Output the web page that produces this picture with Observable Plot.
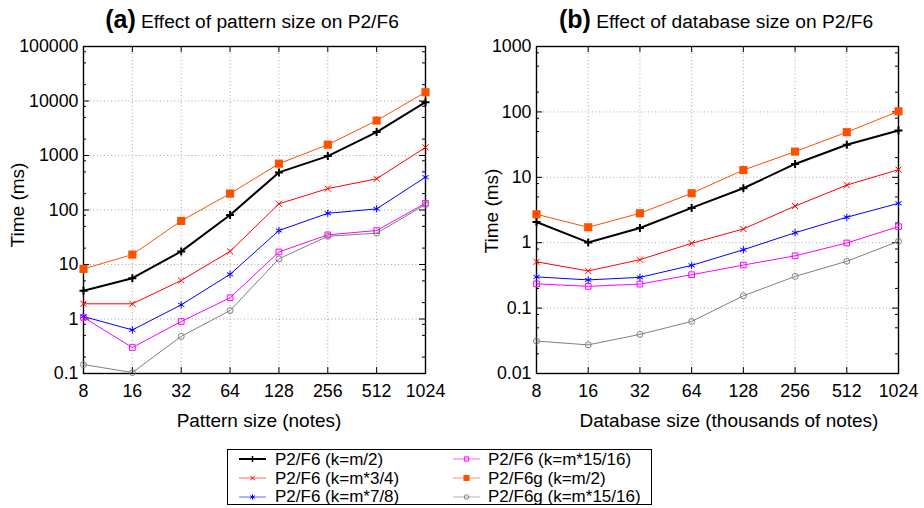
<!DOCTYPE html>
<html><head><meta charset="utf-8">
<script src="https://cdn.jsdelivr.net/npm/d3@7"></script>
<script src="https://cdn.jsdelivr.net/npm/@observablehq/plot@0.6"></script>
<style>
body{margin:0;background:#fff;font-family:"Liberation Sans",Arial,Helvetica,sans-serif;color:#000}
#wrap{position:relative;width:924px;height:508px;overflow:hidden;background:#fff}
.abs{position:absolute;white-space:nowrap}
.title{font-size:19.2px;line-height:30px;text-align:center}
.title b{font-size:25px}
.lab{font-size:19px;line-height:19px}
.ylab{font-size:19px;line-height:19px;transform:translate(-50%,-50%) rotate(-90deg)}
#legend{position:absolute;left:227px;top:449px;width:425px;height:56px;border:1px solid #000;box-sizing:border-box}
.lrow{position:absolute;font-size:17px;line-height:17px;white-space:nowrap}
</style></head><body><div id="wrap"></div>
<script>
// ---------- data ----------
const xTicks = [8, 16, 32, 64, 128, 256, 512, 1024];
const seriesLabels = ["P2/F6 (k=m/2)", "P2/F6 (k=m*3/4)", "P2/F6 (k=m*7/8)", "P2/F6 (k=m*15/16)", "P2/F6g (k=m/2)", "P2/F6g (k=m*15/16)"];
// (a) Effect of pattern size
const a_k2    = [3.3, 5.6, 17.4, 81, 490, 975, 2690, 9500];
const a_k34   = [1.9, 1.9, 5.1, 17.4, 130, 247, 373, 1410];
const a_k78   = [1.11, 0.63, 1.82, 6.6, 42, 87, 105, 400];
const a_k1516 = [1.07, 0.30, 0.90, 2.45, 17, 35, 42, 133];
const a_g2    = [8.3, 15.2, 63, 200, 708, 1580, 4370, 14500];
const a_g1516 = [0.146, 0.104, 0.48, 1.43, 12.7, 33, 37.5, 126];
// (b) Effect of database size
const b_k2    = [2.07, 1.01, 1.68, 3.4, 6.8, 16, 31.4, 51.9];
const b_k34   = [0.51, 0.37, 0.55, 0.98, 1.62, 3.63, 7.6, 13.1];
const b_k78   = [0.30, 0.27, 0.295, 0.45, 0.78, 1.42, 2.45, 4.0];
const b_k1516 = [0.235, 0.215, 0.233, 0.324, 0.455, 0.63, 0.99, 1.76];
const b_g2    = [2.72, 1.72, 2.82, 5.7, 12.9, 24.7, 49, 102];
const b_g1516 = [0.0313, 0.0274, 0.0396, 0.0626, 0.154, 0.305, 0.52, 1.05];
const aYTicks = [0.1, 1, 10, 100, 1000, 10000, 100000];
const bYTicks = [0.01, 0.1, 1, 10, 100, 1000];
const aTitle = ["(a)", "Effect of pattern size on P2/F6"];
const bTitle = ["(b)", "Effect of database size on P2/F6"];
const aXLabel = "Pattern size (notes)";
const bXLabel = "Database size (thousands of notes)";
const yLabel = "Time (ms)";

// ---------- styles ----------
const styles = [
  {stroke: "#000000", sw: 2, symbol: "plus", r: 2.7, msw: 2, fill: "none"},
  {stroke: "#ff0000", sw: 1, symbol: "times", r: 2.9, msw: 1, fill: "none"},
  {stroke: "#0000ff", sw: 1, symbol: "asterisk", r: 3.4, msw: 1, fill: "none"},
  {stroke: "#ff00ff", sw: 1, symbol: "square", r: 3.2, msw: 1, fill: "none"},
  {stroke: "#ff5000", sw: 1, symbol: "square", r: 4.6, msw: 0, fill: "#ff5000"},
  {stroke: "#808080", sw: 1, symbol: "circle", r: 3, msw: 1, fill: "none"}
];

function minorTicks(lo, hi) {
  const out = [];
  for (let d = lo; d < hi * 0.999; d *= 10) for (const m of [2, 5, 8]) out.push(+(d * m).toPrecision(3));
  return out;
}

function panel(seriesArr, yTicks, ml, mr) {
  const W = 462, H = 446, mt = 46, mb = 73;
  const pw = W - ml - mr, ph = H - mt - mb;
  const yDom = [yTicks[0], yTicks[yTicks.length - 1]];
  const minors = minorTicks(yDom[0], yDom[1]);
  const marks = [
    Plot.ruleY(yTicks, {y: d => d, stroke: "#a8a8a8", strokeWidth: 1, strokeDasharray: "1,2.5"}),
    Plot.ruleX(xTicks, {x: d => d, stroke: "#a8a8a8", strokeWidth: 1, strokeDasharray: "1,2.5"}),
    // inward major ticks
    Plot.ruleY(yTicks, {y: d => d, stroke: "#000", strokeWidth: 1, insetRight: pw - 6}),
    Plot.ruleY(yTicks, {y: d => d, stroke: "#000", strokeWidth: 1, insetLeft: pw - 6}),
    Plot.ruleY(minors, {y: d => d, stroke: "#000", strokeWidth: 1, insetRight: pw - 3}),
    Plot.ruleY(minors, {y: d => d, stroke: "#000", strokeWidth: 1, insetLeft: pw - 3}),
    Plot.ruleX(xTicks, {x: d => d, stroke: "#000", strokeWidth: 1, insetTop: ph - 6}),
    Plot.ruleX(xTicks, {x: d => d, stroke: "#000", strokeWidth: 1, insetBottom: ph - 6}),
    Plot.frame({stroke: "#000", strokeWidth: 1.4}),
    Plot.axisY(yTicks, {tickSize: 0, tickPadding: 5, tickFormat: d => String(d), label: null, fontSize: 17.8}),
    Plot.axisX(xTicks, {tickSize: 0, tickPadding: 11, tickFormat: d => String(d), label: null, fontSize: 17.8})
  ];
  seriesArr.forEach((vals, i) => {
    const s = styles[i];
    const data = xTicks.map((x, j) => ({x, y: vals[j]}));
    marks.push(Plot.line(data, {x: "x", y: "y", stroke: s.stroke, strokeWidth: s.sw}));
    marks.push(Plot.dot(data, {x: "x", y: "y", symbol: s.symbol, r: s.r, stroke: s.msw ? s.stroke : "none", strokeWidth: s.msw, fill: s.fill}));
  });
  return Plot.plot({
    width: W, height: H, marginLeft: ml, marginRight: mr, marginTop: mt, marginBottom: mb,
    style: {fontFamily: '"Liberation Sans", Arial, sans-serif', fontSize: "17.8px", color: "#000", background: "transparent", overflow: "visible"},
    x: {type: "log", base: 2, domain: [8, 1024]},
    y: {type: "log", domain: yDom},
    marks
  });
}

const wrap = document.getElementById("wrap");
function place(el, left, top) { el.style.position = "absolute"; el.style.left = left + "px"; el.style.top = top + "px"; wrap.appendChild(el); return el; }

place(panel([a_k2, a_k34, a_k78, a_k1516, a_g2, a_g1516], aYTicks, 83, 37), 0, 0);
place(panel([b_k2, b_k34, b_k78, b_k1516, b_g2, b_g1516], bYTicks, 74, 26), 462, 0);

function addTitle(t, cx) {
  const d = document.createElement("div");
  d.className = "abs title";
  d.innerHTML = `<b>${t[0]}</b> ${t[1]}`;
  place(d, cx - 200, 4);
  d.style.width = "400px";
}
addTitle(aTitle, 252);
addTitle(bTitle, 716);

function addXLabel(t, cx, top) {
  const d = document.createElement("div");
  d.className = "abs lab";
  d.textContent = t;
  d.style.width = "400px"; d.style.textAlign = "center";
  place(d, cx - 200, top);
}
addXLabel(aXLabel, 259, 411);
addXLabel(bXLabel, 729, 411);

function addYLabel(t, cx, cy) {
  const d = document.createElement("div");
  d.className = "abs ylab";
  d.textContent = t;
  place(d, cx, cy);
}
addYLabel(yLabel, 17, 205);
addYLabel(yLabel, 491, 211);

// legend
const leg = document.createElement("div");
leg.id = "legend";
wrap.appendChild(leg);
const rowY = [10.3, 29.3, 47.7];
seriesLabels.forEach((lab, i) => {
  const col = i < 3 ? 0 : 1, row = i % 3, s = styles[i];
  const sx = col === 0 ? 10 : 224, tx = col === 0 ? 47 : 260;
  const svg = d3.create("svg").attr("width", 30).attr("height", 12)
    .style("position", "absolute").style("left", sx + "px").style("top", (rowY[row] - 6 - 1) + "px");
  svg.append("line").attr("x1", 1).attr("x2", 28).attr("y1", 6).attr("y2", 6)
    .attr("stroke", s.stroke).attr("stroke-width", s.sw).attr("stroke-opacity", i === 0 ? 1 : 0.6);
  const symMap = {plus: d3.symbolPlus2 || d3.symbolPlus, times: d3.symbolTimes || d3.symbolCross, asterisk: d3.symbolAsterisk || d3.symbolStar, square: d3.symbolSquare, circle: d3.symbolCircle};
  const rr = s.r * 0.75;
  svg.append("path").attr("transform", "translate(14.5,6)")
    .attr("d", d3.symbol(symMap[s.symbol], rr * rr * Math.PI)())
    .attr("fill", s.fill).attr("stroke", s.msw ? s.stroke : "none").attr("stroke-width", s.msw ? Math.min(s.msw, 1.5) : 0);
  leg.appendChild(svg.node());
  const t = document.createElement("div");
  t.className = "lrow";
  t.textContent = lab;
  t.style.left = tx + "px";
  t.style.top = (rowY[row] - 8.5 - 1) + "px";
  leg.appendChild(t);
});
</script></body></html>
